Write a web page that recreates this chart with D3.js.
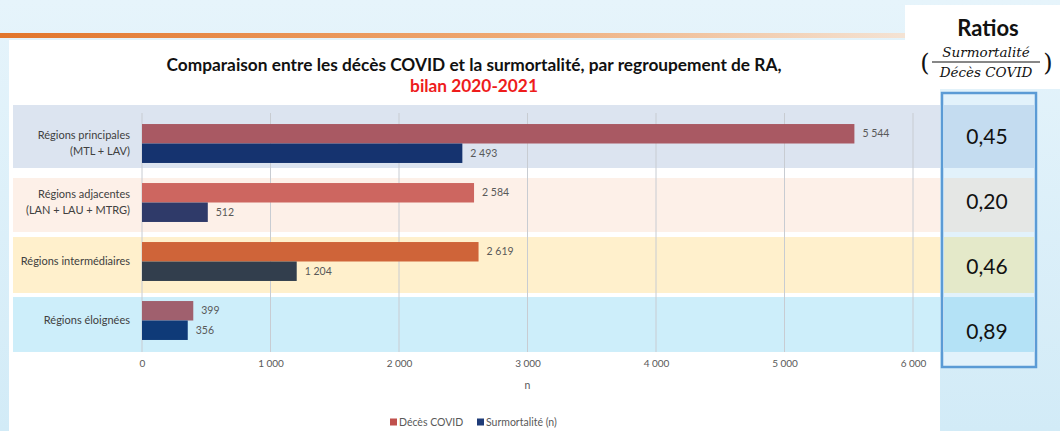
<!DOCTYPE html>
<head>
  <meta charset="utf-8">
  <style>
    body { margin:0; background:#d9eef8; }
    svg { display:block; }
    text { font-family: Lato, "Open Sans", sans-serif; }
    .tick text { font-size:10px; fill:#595959; }
    .cat { font-size:11px; fill:#404040; }
    .val { font-size:10.5px; fill:#595959; }
    .ratio { font-size:21px; fill:#111; }
    .frac { font-family: "DejaVu Serif", serif; font-style: italic; font-size:13.5px; fill:#111; }
    .paren { font-family: "DejaVu Serif", serif; font-size:24px; fill:#111; }
  </style>
</head>
<body>
<script src="https://d3js.org/d3.v7.min.js"></script>
<script>

  // DATA
  var categories = [
    ["Régions principales", "(MTL + LAV)"],
    ["Régions adjacentes", "(LAN + LAU + MTRG)"],
    ["Régions intermédiaires"],
    ["Régions éloignées"]
  ];
  var decesCovid   = [5544, 2584, 2619, 399];
  var surmortalite = [2493, 512, 1204, 356];
  var ratios       = [0.45, 0.20, 0.46, 0.89];
  var xTicks       = [0, 1000, 2000, 3000, 4000, 5000, 6000];
  var seriesNames  = ["Décès COVID", "Surmortalité (n)"];

  // colours (each band tints its bars a bit differently in the original)
  var decesColors = ["#a95963", "#cd6660", "#cf6439", "#a0606e"];
  var surmColors  = ["#15336f", "#2f3a69", "#323e4d", "#0f3a78"];
  var bandColors  = ["#dce4f0", "#fdf0e8", "#fff0cc", "#cdeefa"];
  var cellColors  = ["#c4dcf0", "#e5e7e5", "#e4e9c9", "#b4e2f6"];
  var legendColors = ["#c0504d", "#1f3c78"];
  // band top/bottom offsets around each bar pair
  var bandPad = [[-19, 5], [-5, 10], [-5, 12], [-4, 12]];

  var width = 1060, height = 431;

  var svg = d3.select("body").append("svg")
    .attr("width", width)
    .attr("height", height);

  // BACKGROUND
  var defs = svg.append("defs");
  var bg = defs.append("linearGradient").attr("id", "bg").attr("x1", 0).attr("y1", 0).attr("x2", 0).attr("y2", 1);
  bg.append("stop").attr("offset", "0%").attr("stop-color", "#e6f4fb");
  bg.append("stop").attr("offset", "100%").attr("stop-color", "#d2ebf7");
  var orange = defs.append("linearGradient").attr("id", "orange");
  orange.append("stop").attr("offset", "0%").attr("stop-color", "#e2752b");
  orange.append("stop").attr("offset", "55%").attr("stop-color", "#eea872");
  orange.append("stop").attr("offset", "100%").attr("stop-color", "#f4e3d4");

  svg.append("rect").attr("width", width).attr("height", height).attr("fill", "url(#bg)");
  svg.append("rect").attr("x", 0).attr("y", 33).attr("width", 905).attr("height", 5).attr("fill", "url(#orange)");
  svg.append("rect").attr("x", 9).attr("y", 40).attr("width", 931).attr("height", height - 40).attr("fill", "#fff");
  svg.append("rect").attr("x", 905).attr("y", 5).attr("width", 155).attr("height", 84).attr("fill", "#fff");

  // SCALES
  var x = d3.scaleLinear().domain([0, 6000]).range([142, 913]);
  var y = d3.scaleBand().domain(d3.range(categories.length))
    .range([114, 350]).paddingInner(0.34).paddingOuter(0.17);
  var ySeries = d3.scaleBand().domain([0, 1]).range([0, y.bandwidth()]);
  var yRatio = d3.scalePoint().domain(d3.range(ratios.length)).range([137, 332]);

  var fmt = d3.formatLocale({ decimal: ",", thousands: "\u00a0", grouping: [3], currency: ["", " €"] });
  var fmtN = fmt.format(",d");
  var fmtR = fmt.format(".2f");

  // BANDS
  svg.selectAll("rect.band")
    .data(categories)
    .enter().append("rect")
      .attr("class", "band")
      .attr("x", 13)
      .attr("width", 927)
      .attr("y", (d, i) => y(i) + bandPad[i][0])
      .attr("height", (d, i) => y.bandwidth() + bandPad[i][1] - bandPad[i][0])
      .attr("fill", (d, i) => bandColors[i]);

  // GRIDLINES + AXIS
  svg.selectAll("line.grid")
    .data(xTicks)
    .enter().append("line")
      .attr("class", "grid")
      .attr("x1", d => x(d)).attr("x2", d => x(d))
      .attr("y1", 113).attr("y2", 352)
      .attr("stroke", "#c8ccd2").attr("stroke-width", 1);

  var axis = svg.append("g")
    .attr("transform", "translate(0,356)")
    .call(d3.axisBottom(x).tickValues(xTicks).tickSize(0).tickPadding(4).tickFormat(fmtN));
  axis.select(".domain").remove();

  svg.append("text")
    .attr("x", x(3000)).attr("y", 389)
    .attr("text-anchor", "middle")
    .style("font-size", "10.5px").style("fill", "#595959")
    .text("n");

  // BARS
  var groups = svg.selectAll("g.cat")
    .data(categories)
    .enter().append("g")
      .attr("transform", (d, i) => "translate(0," + y(i) + ")");

  groups.append("rect")
    .attr("x", x(0))
    .attr("y", ySeries(0))
    .attr("height", ySeries.bandwidth())
    .attr("width", (d, i) => x(decesCovid[i]) - x(0))
    .attr("fill", (d, i) => decesColors[i]);

  groups.append("rect")
    .attr("x", x(0))
    .attr("y", ySeries(1))
    .attr("height", ySeries.bandwidth())
    .attr("width", (d, i) => x(surmortalite[i]) - x(0))
    .attr("fill", (d, i) => surmColors[i]);

  groups.append("text")
    .attr("class", "val")
    .attr("x", (d, i) => x(decesCovid[i]) + 8)
    .attr("y", ySeries(0) + ySeries.bandwidth() / 2)
    .attr("dy", "0.35em")
    .text((d, i) => fmtN(decesCovid[i]));

  groups.append("text")
    .attr("class", "val")
    .attr("x", (d, i) => x(surmortalite[i]) + 8)
    .attr("y", ySeries(1) + ySeries.bandwidth() / 2)
    .attr("dy", "0.35em")
    .text((d, i) => fmtN(surmortalite[i]));

  // category labels
  groups.append("text")
    .attr("class", "cat")
    .attr("text-anchor", "end")
    .attr("x", 130)
    .attr("y", y.bandwidth() / 2)
    .each(function(d) {
      var t = d3.select(this);
      var off = -(d.length - 1) * 0.72;
      d.forEach(function(line, k) {
        t.append("tspan").attr("x", 130)
          .attr("dy", (k === 0 ? off + 0.35 : 1.45) + "em")
          .text(line);
      });
    });

  // TITLE
  svg.append("text")
    .attr("x", 474).attr("y", 71)
    .attr("text-anchor", "middle")
    .style("font-size", "17.3px").style("font-weight", "bold").style("fill", "#111")
    .text("Comparaison entre les décès COVID et la surmortalité, par regroupement de RA,");
  svg.append("text")
    .attr("x", 474).attr("y", 92)
    .attr("text-anchor", "middle")
    .style("font-size", "17.3px").style("font-weight", "bold").style("fill", "#ee1c1c")
    .text("bilan 2020-2021");

  // LEGEND
  var legend = svg.append("g").attr("transform", "translate(390,422)");
  var lx = [0, 87];
  seriesNames.forEach(function(name, i) {
    legend.append("rect").attr("x", lx[i]).attr("y", -3.5).attr("width", 7).attr("height", 7).attr("fill", legendColors[i]);
    legend.append("text").attr("x", lx[i] + 9).attr("y", 0).attr("dy", "0.35em")
      .style("font-size", "10.5px").style("fill", "#595959").text(name);
  });

  // RATIOS PANEL
  svg.append("text")
    .attr("x", 988).attr("y", 36)
    .attr("text-anchor", "middle")
    .style("font-size", "22px").style("font-weight", "bold").style("fill", "#111")
    .text("Ratios");
  svg.append("text").attr("class", "frac").attr("x", 986).attr("y", 57).attr("text-anchor", "middle").text("Surmortalité");
  svg.append("line").attr("x1", 932).attr("x2", 1040).attr("y1", 62).attr("y2", 62).attr("stroke", "#111").attr("stroke-width", 1.2);
  svg.append("text").attr("class", "frac").attr("x", 986).attr("y", 77).attr("text-anchor", "middle").text("Décès COVID");
  svg.append("text").attr("class", "paren").attr("x", 925).attr("y", 71).attr("text-anchor", "middle").text("(");
  svg.append("text").attr("class", "paren").attr("x", 1048).attr("y", 71).attr("text-anchor", "middle").text(")");

  svg.append("rect").attr("x", 942).attr("y", 93).attr("width", 94).attr("height", 274).attr("fill", "#e2f2fb");

  svg.selectAll("rect.cell")
    .data(ratios)
    .enter().append("rect")
      .attr("class", "cell")
      .attr("x", 944).attr("width", 90)
      .attr("y", (d, i) => y(i) + bandPad[i][0])
      .attr("height", (d, i) => y.bandwidth() + bandPad[i][1] - bandPad[i][0])
      .attr("fill", (d, i) => cellColors[i]);

  svg.selectAll("text.ratio")
    .data(ratios)
    .enter().append("text")
      .attr("class", "ratio")
      .attr("x", 987)
      .attr("y", (d, i) => yRatio(i))
      .attr("dy", "0.35em")
      .attr("text-anchor", "middle")
      .text(d => fmtR(d));

  svg.append("rect").attr("x", 942).attr("y", 93).attr("width", 94).attr("height", 274)
    .attr("fill", "none").attr("stroke", "#5b9bd5").attr("stroke-width", 2.5);

</script>
</body>
